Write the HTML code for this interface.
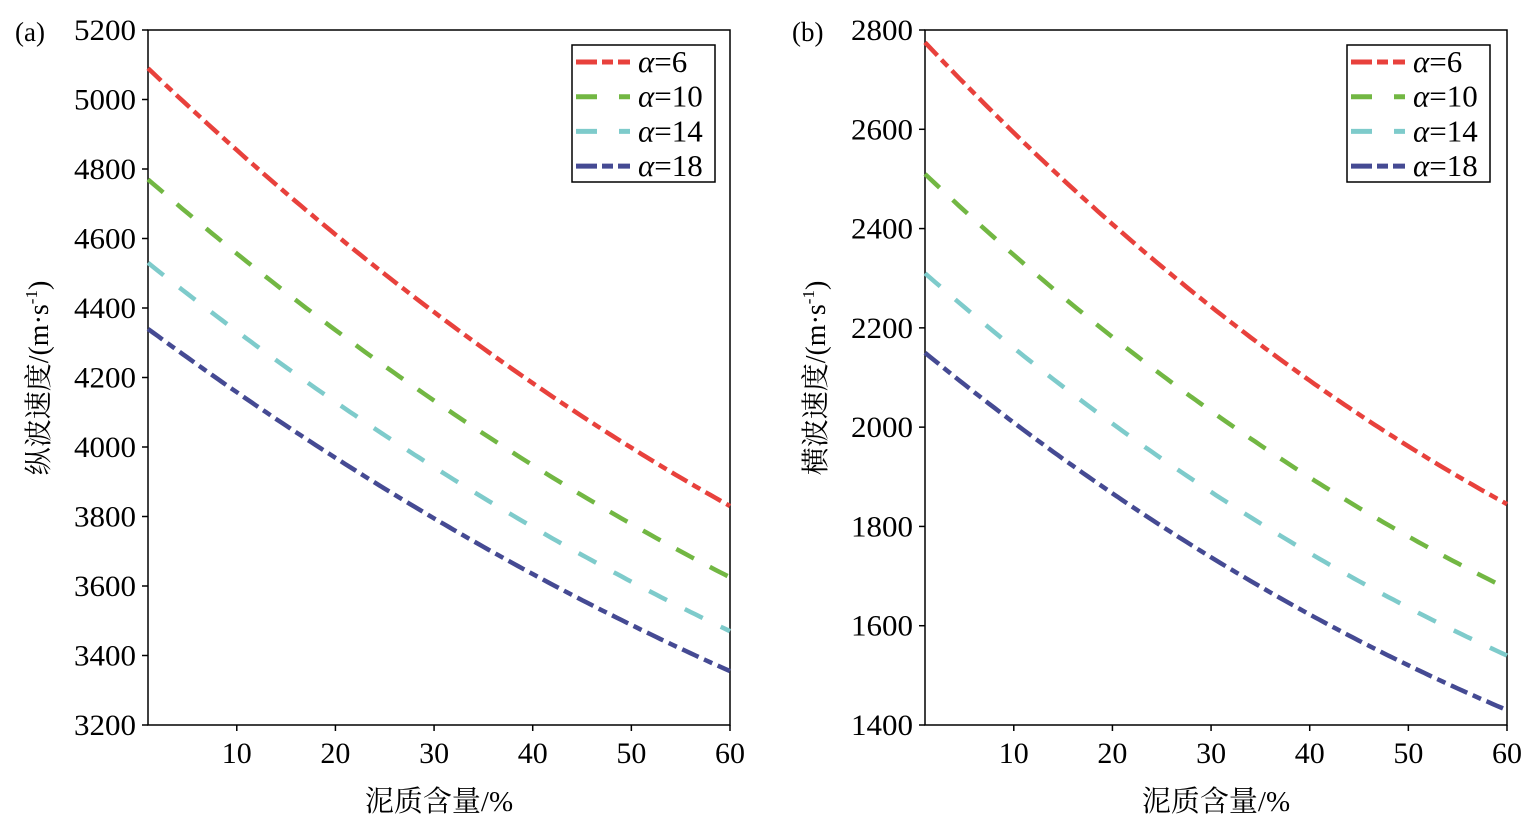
<!DOCTYPE html>
<html><head><meta charset="utf-8"><style>
body{margin:0;background:#fff}
svg text{font-family:"Liberation Serif","Noto Serif CJK SC",serif;fill:#000}
</style></head><body>
<svg id="s" width="1538" height="822" xmlns="http://www.w3.org/2000/svg"></svg>
<script>
const s=document.getElementById('s');let h='';
const cols=['#e8413c','#72b743','#7ecbcb','#454a93'];
const dash=['18,6,9,6','20,18','20,20','18,6,9,6'];
const names=['6','10','14','18'];
function panel(x0,x1,vmin,vmax,step,curves,lab,ytitle,lx){
 const y0=30,y1=725;
 const X=v=>x0+(v-1)/59*(x1-x0), Y=v=>y1-(v-vmin)/(vmax-vmin)*(y1-y0);
 h+=`<rect x="${x0}" y="${y0}" width="${x1-x0}" height="${y1-y0}" fill="none" stroke="#000" stroke-width="1.5"/>`;
 for(let v=vmin;v<=vmax;v+=step){h+=`<line x1="${x0}" x2="${x0-6}" y1="${Y(v)}" y2="${Y(v)}" stroke="#000" stroke-width="1.5"/><text x="${x0-12}" y="${Y(v)+10}" font-size="30" text-anchor="end" textLength="62" lengthAdjust="spacingAndGlyphs">${v}</text>`;}
 for(let t=10;t<=60;t+=10){h+=`<line x1="${X(t)}" x2="${X(t)}" y1="${y1}" y2="${y1+6}" stroke="#000" stroke-width="1.5"/><text x="${X(t)}" y="763" font-size="30" text-anchor="middle">${t}</text>`;}
 curves.forEach((c,i)=>{const k=Math.log(c[0]/c[1])/59;const sag=0.03*(c[0]-c[1]);let d='';for(let x=1;x<=60;x+=0.5){const u=(x-1)/59;const v=c[0]*Math.exp(-k*(x-1))-sag*4*u*(1-u);d+=(x==1?'M':'L')+X(x).toFixed(1)+','+Y(v).toFixed(1);}
  h+=`<path d="${d}" fill="none" stroke="${cols[i]}" stroke-width="4.5" stroke-dasharray="${dash[i]}"/>`;});
 h+=`<rect x="${lx}" y="45" width="143" height="137" fill="#fff" stroke="#000" stroke-width="1.5"/>`;
 names.forEach((n,i)=>{const yy=62+i*34.7;h+=`<line x1="${lx+4}" x2="${lx+58}" y1="${yy}" y2="${yy}" stroke="${cols[i]}" stroke-width="5" stroke-dasharray="${i==0||i==3?'21,5,11,5':'21,22'}"/><text x="${lx+66}" y="${yy+10}" font-size="31"><tspan font-style="italic">α</tspan>=${n}</text>`;});
 h+=`<text x="${(x0+x1)/2}" y="811" font-size="29" text-anchor="middle">泥质含量/%</text>`;
 h+=`<text x="${x0-133}" y="41" font-size="27">${lab}</text>`;
 const tx=x0-100;h+=`<text transform="translate(${tx},378) rotate(-90)" font-size="28" text-anchor="middle">${ytitle}/(m·s<tspan font-size="17" dy="-11">-1</tspan><tspan dy="11">)</tspan></text>`;
}
panel(148,730,3200,5200,200,[[5090,3830],[4770,3625],[4530,3470],[4340,3355]],'(a)','纵波速度',572);
panel(925,1507,1400,2800,200,[[2775,1845],[2510,1675],[2310,1540],[2150,1430]],'(b)','横波速度',1347);
s.innerHTML=h;
</script>
</body></html>
